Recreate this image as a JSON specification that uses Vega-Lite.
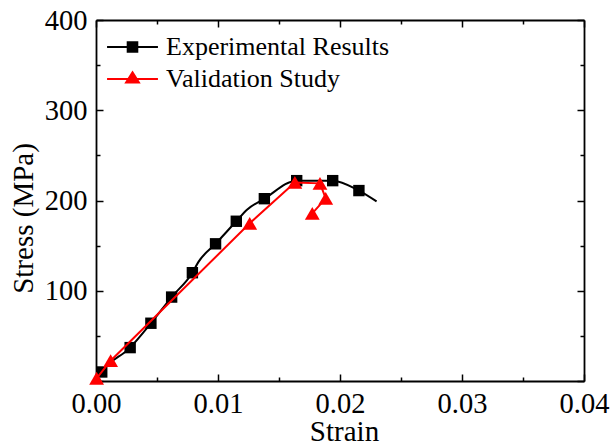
{
  "$schema": "https://vega.github.io/schema/vega-lite/v6.json",
  "width": 488,
  "height": 361,
  "autosize": {"type": "none"},
  "padding": {"left": 96, "top": 20, "right": 27, "bottom": 67},
  "background": "white",
  "config": {
    "font": "Liberation Serif",
    "view": {"stroke": null},
    "axis": {
      "grid": false,
      "domainColor": "black",
      "domainWidth": 1.8,
      "tickColor": "black",
      "tickWidth": 1.5,
      "labelColor": "black",
      "titleColor": "black",
      "labelFont": "Liberation Serif",
      "titleFont": "Liberation Serif",
      "labelFontSize": 28.5,
      "titleFontSize": 29,
      "titleFontWeight": "normal"
    }
  },
  "data": {
    "values": [
      {"series": "Experimental Results", "strain": 0, "stress": 0, "marker": 0, "order": 1},
      {"series": "Experimental Results", "strain": 0.00047, "stress": 10, "marker": 1, "order": 2},
      {"series": "Experimental Results", "strain": 0.0028, "stress": 37, "marker": 1, "order": 3},
      {"series": "Experimental Results", "strain": 0.0045, "stress": 64, "marker": 1, "order": 4},
      {"series": "Experimental Results", "strain": 0.0062, "stress": 93, "marker": 1, "order": 5},
      {"series": "Experimental Results", "strain": 0.0079, "stress": 120, "marker": 1, "order": 6},
      {"series": "Experimental Results", "strain": 0.0084, "stress": 132, "marker": 0, "order": 7},
      {"series": "Experimental Results", "strain": 0.0098, "stress": 152, "marker": 1, "order": 8},
      {"series": "Experimental Results", "strain": 0.0115, "stress": 177, "marker": 1, "order": 9},
      {"series": "Experimental Results", "strain": 0.0124, "stress": 190, "marker": 0, "order": 10},
      {"series": "Experimental Results", "strain": 0.0138, "stress": 202, "marker": 1, "order": 11},
      {"series": "Experimental Results", "strain": 0.01645, "stress": 222, "marker": 1, "order": 12},
      {"series": "Experimental Results", "strain": 0.0194, "stress": 222, "marker": 1, "order": 13},
      {"series": "Experimental Results", "strain": 0.02155, "stress": 211, "marker": 1, "order": 14},
      {"series": "Experimental Results", "strain": 0.023, "stress": 199, "marker": 0, "order": 15},
      {"series": "Validation Study", "strain": 0.00005, "stress": 3, "marker": 1, "order": 1},
      {"series": "Validation Study", "strain": 0.0012, "stress": 22.5, "marker": 1, "order": 2},
      {"series": "Validation Study", "strain": 0.0126, "stress": 174.7, "marker": 1, "order": 3},
      {"series": "Validation Study", "strain": 0.0163, "stress": 220, "marker": 1, "order": 4},
      {"series": "Validation Study", "strain": 0.01836, "stress": 219, "marker": 1, "order": 5},
      {"series": "Validation Study", "strain": 0.01883, "stress": 202.4, "marker": 1, "order": 6},
      {"series": "Validation Study", "strain": 0.01773, "stress": 185.8, "marker": 1, "order": 7}
    ]
  },
  "layer": [
    {
      "transform": [{"filter": "datum.series === 'Experimental Results'"}],
      "mark": {"type": "line", "color": "black", "strokeWidth": 2, "interpolate": "monotone"},
      "encoding": {
        "x": {"field": "strain", "type": "quantitative", "scale": {"domain": [0, 0.04], "nice": false, "zero": false},
          "axis": {"orient": "bottom", "values": [0, 0.01, 0.02, 0.03, 0.04], "format": ".2f", "ticks": false, "domain": true,
            "labelPadding": 31, "labelBaseline": "alphabetic", "labelFlush": false, "labelOverlap": false,
            "title": "Strain", "titleX": 248, "titleY": 59, "titleBaseline": "alphabetic", "titleAlign": "center"}},
        "y": {"field": "stress", "type": "quantitative", "scale": {"domain": [0, 400], "nice": false},
          "axis": {"orient": "left", "values": [100, 200, 300, 400], "ticks": false, "domain": true, "labelPadding": 9, "labelFlush": false, "labelOverlap": false,
            "title": "Stress (MPa)", "titleX": -64, "titleY": 198, "titleAngle": -90, "titleBaseline": "alphabetic", "titleAlign": "center"}},
        "order": {"field": "order", "type": "quantitative"}
      }
    },
    {
      "transform": [{"filter": "datum.series === 'Experimental Results' && datum.marker === 1"}],
      "mark": {"type": "point", "shape": "square", "filled": true, "color": "black", "opacity": 1, "size": 130},
      "encoding": {
        "x": {"field": "strain", "type": "quantitative",
          "axis": {"orient": "bottom", "values": [0, 0.01, 0.02, 0.03, 0.04], "labels": false, "domain": false, "tickSize": -7, "title": null}},
        "y": {"field": "stress", "type": "quantitative",
          "axis": {"orient": "left", "values": [0, 100, 200, 300, 400], "labels": false, "domain": false, "tickSize": -7, "title": null}}
      }
    },
    {
      "transform": [{"filter": "datum.series === 'Validation Study'"}],
      "mark": {"type": "line", "color": "#ff0000", "strokeWidth": 2},
      "encoding": {
        "x": {"field": "strain", "type": "quantitative",
          "axis": {"orient": "top", "values": [0, 0.01, 0.02, 0.03, 0.04], "labels": false, "domain": true, "tickSize": -7, "title": null}},
        "y": {"field": "stress", "type": "quantitative",
          "axis": {"orient": "right", "values": [0, 100, 200, 300, 400], "labels": false, "domain": true, "tickSize": -7, "title": null}},
        "order": {"field": "order", "type": "quantitative"}
      }
    },
    {
      "transform": [{"filter": "datum.series === 'Validation Study'"}],
      "mark": {"type": "point", "shape": "triangle-up", "filled": true, "color": "#ff0000", "opacity": 1, "size": 220},
      "encoding": {
        "x": {"field": "strain", "type": "quantitative",
          "axis": {"orient": "bottom", "values": [0.005, 0.015, 0.025, 0.035], "labels": false, "domain": false, "tickSize": -4, "title": null}},
        "y": {"field": "stress", "type": "quantitative",
          "axis": {"orient": "left", "values": [50, 150, 250, 350], "labels": false, "domain": false, "tickSize": -4, "title": null}}
      }
    },
    {
      "transform": [{"filter": "datum.marker === 5"}],
      "mark": {"type": "point", "filled": true, "opacity": 1},
      "encoding": {
        "x": {"field": "strain", "type": "quantitative",
          "axis": {"orient": "top", "values": [0.005, 0.015, 0.025, 0.035], "labels": false, "domain": false, "tickSize": -4, "title": null}},
        "y": {"field": "stress", "type": "quantitative",
          "axis": {"orient": "right", "values": [50, 150, 250, 350], "labels": false, "domain": false, "tickSize": -4, "title": null}},
        "fill": {"field": "series", "type": "nominal",
          "scale": {"domain": ["Experimental Results", "Validation Study"], "range": ["black", "#ff0000"]},
          "legend": {"title": null, "orient": "none", "legendX": 19.5, "legendY": 10, "padding": 0, "symbolSize": 1024, "symbolStrokeWidth": 2, "symbolOpacity": 1,
            "labelFont": "Liberation Serif", "labelFontSize": 26, "labelColor": "black", "labelOffset": 16.5, "rowPadding": 2, "labelLimit": 0}},
        "stroke": {"field": "series", "type": "nominal",
          "scale": {"domain": ["Experimental Results", "Validation Study"], "range": ["black", "#ff0000"]},
          "legend": {"title": null, "orient": "none", "legendX": 19.5, "legendY": 10, "padding": 0, "symbolSize": 1024, "symbolStrokeWidth": 2, "symbolOpacity": 1,
            "labelFont": "Liberation Serif", "labelFontSize": 26, "labelColor": "black", "labelOffset": 16.5, "rowPadding": 2, "labelLimit": 0}},
        "shape": {"field": "series", "type": "nominal",
          "scale": {"domain": ["Experimental Results", "Validation Study"], "range": ["M-1.59,0H1.59M-0.3,-0.3H0.3V0.3H-0.3Z", "M-1.59,0H1.59M0,-0.42L0.4,0.22H-0.4Z"]},
          "legend": {"title": null, "orient": "none", "legendX": 19.5, "legendY": 10, "padding": 0, "symbolSize": 1024, "symbolStrokeWidth": 2, "symbolOpacity": 1,
            "labelFont": "Liberation Serif", "labelFontSize": 26, "labelColor": "black", "labelOffset": 16.5, "rowPadding": 2, "labelLimit": 0}}
      }
    }
  ],
  "resolve": {"axis": {"x": "independent", "y": "independent"}}
}
